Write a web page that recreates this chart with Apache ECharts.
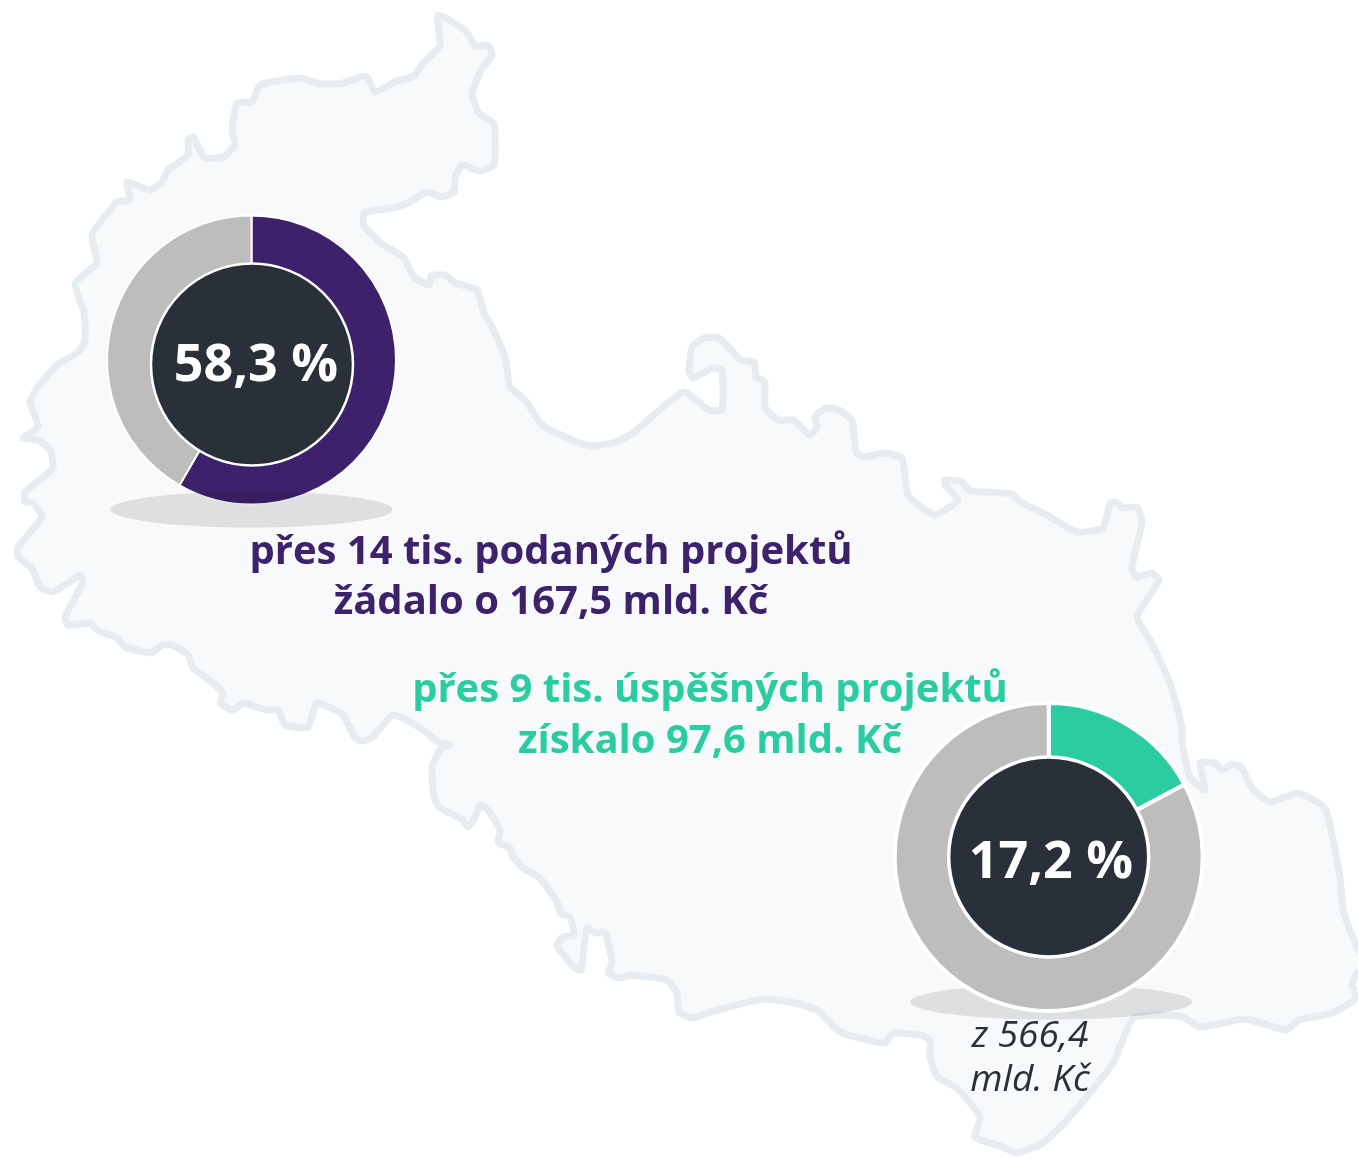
<!DOCTYPE html>
<html lang="cs">
<head>
<meta charset="utf-8">
<style>html,body{margin:0;padding:0;background:#fff}#c{width:1358px;height:1158px}</style>
<script src="https://cdn.jsdelivr.net/npm/echarts@6/dist/echarts.min.js"></script>
</head>
<body>
<div id="c"></div>
<script>
var submittedShare = [58.3, 41.7];
var successShare = [17.2, 82.8];
var submittedLabel = '58,3 %';
var successLabel = '17,2 %';
var submittedText = 'přes 14 tis. podaných projektů\nžádalo o 167,5 mld. Kč';
var successText = 'přes 9 tis. úspěšných projektů\nzískalo 97,6 mld. Kč';
var totalText = 'z 566,4\nmld. Kč';

var regionOutline = [
[438,15],[466,31],[475,46],[488,45],[492,55],[481,70],[472,94],[479,113],[494,124],[494,165],[479,171],[462,165],[455,178],[454,192],[442,197],[427,192],[410,202],[397,207],[364,213],[364,226],[382,244],[403,257],[414,277],[429,285],[431,276],[445,275],[455,283],[477,290],[484,313],[492,327],[505,357],[510,387],[525,400],[542,425],[572,440],[590,446],[616,442],[633,433],[683,392],[709,410],[722,410],[722,370],[713,368],[693,378],[689,372],[692,347],[704,338],[719,338],[741,360],[754,362],[756,377],[765,382],[765,407],[778,420],[793,420],[810,435],[817,427],[815,417],[826,408],[839,410],[852,420],[856,452],[865,457],[884,453],[902,458],[908,495],[934,515],[958,500],[945,485],[945,480],[962,482],[970,491],[1012,494],[1020,502],[1043,513],[1077,532],[1103,528],[1110,503],[1116,502],[1123,508],[1137,507],[1142,522],[1132,567],[1136,577],[1152,573],[1159,580],[1137,617],[1150,640],[1170,683],[1182,727],[1182,743],[1190,777],[1205,790],[1200,763],[1215,763],[1222,770],[1232,764],[1242,768],[1252,788],[1270,802],[1298,793],[1325,808],[1340,877],[1343,910],[1357,947],[1372,965],[1358,972],[1352,985],[1357,998],[1332,1013],[1298,1020],[1287,1030],[1245,1019],[1200,1027],[1183,1017],[1157,1015],[1133,1018],[1113,1063],[1090,1093],[1067,1120],[1043,1143],[1017,1153],[1003,1147],[975,1137],[980,1117],[957,1088],[937,1077],[930,1057],[930,1040],[920,1035],[893,1033],[885,1043],[840,1032],[817,1010],[790,1002],[763,999],[710,1012],[693,1018],[679,1012],[677,993],[667,980],[630,975],[620,978],[608,973],[612,963],[605,932],[595,933],[587,928],[581,970],[575,968],[557,946],[563,937],[574,935],[570,917],[560,913],[557,902],[540,878],[523,868],[512,855],[510,848],[498,842],[500,830],[488,810],[480,805],[475,818],[468,827],[462,819],[440,808],[434,797],[432,767],[440,750],[450,745],[438,742],[427,733],[410,722],[393,715],[377,732],[372,738],[363,741],[355,738],[343,715],[317,703],[308,727],[285,725],[278,710],[267,710],[243,703],[233,710],[220,703],[223,693],[213,683],[193,668],[188,655],[172,645],[163,645],[150,653],[125,647],[117,638],[97,630],[90,623],[68,625],[65,617],[83,582],[80,575],[70,582],[52,592],[40,587],[32,568],[18,557],[18,547],[42,517],[33,503],[25,502],[25,492],[53,468],[50,450],[38,440],[23,438],[38,427],[30,402],[37,388],[56,366],[78,352],[85,340],[84,313],[75,283],[97,263],[92,235],[117,202],[130,200],[127,182],[150,190],[162,182],[168,170],[188,155],[188,140],[193,137],[205,158],[223,157],[235,145],[232,130],[237,103],[252,102],[260,85],[299,78],[321,84],[343,83],[366,76],[375,92],[397,81],[414,76],[423,63],[440,46]
];

var chart = echarts.init(document.getElementById('c'), null, {renderer: 'canvas'});
var FONT = '"Open Sans", "Noto Sans", sans-serif';
var PURPLE = '#3d226b', GREEN = '#2bcca2', GREY = '#bdbdbd', DARK = '#2a3039';

function donut(name, values, color, center, r, border) {
  return {
    type: 'pie', name: name, z: 2, silent: true, startAngle: 90, clockwise: true,
    center: center, radius: [90, r], label: {show: false}, labelLine: {show: false},
    itemStyle: {borderColor: '#ffffff', borderWidth: border},
    data: [
      {value: values[0], name: 'podíl', itemStyle: {color: color}},
      {value: values[1], name: 'zbytek', itemStyle: {color: GREY}}
    ]
  };
}
function txt(text, x, y, size, color, weight, lh, style) {
  return {type: 'text', z: 10, silent: true, x: x, y: y, style: {
    text: text, fill: color,
    fontFamily: FONT, fontSize: size, fontWeight: weight, fontStyle: style || 'normal',
    lineHeight: lh, align: 'center', verticalAlign: 'middle'
  }};
}
chart.setOption({
  animation: false,
  backgroundColor: '#ffffff',
  tooltip: {show: false},
  series: [
    donut('Podané', submittedShare, PURPLE, [251.5, 360], 144.5, 2),
    donut('Úspěšné', successShare, GREEN, [1048.7, 857], 154, 4)
  ],
  graphic: {elements: [
    {type: 'polygon', z: 0, silent: true, shape: {points: regionOutline, smooth: 0.15},
     style: {fill: '#f7f9fb', stroke: '#e6ecf0', lineWidth: 7, lineJoin: 'round'}},
    {type: 'ellipse', z: 3, silent: true, shape: {cx: 251.5, cy: 509.5, rx: 141, ry: 18}, style: {fill: 'rgba(0,0,0,0.1)'}},
    {type: 'ellipse', z: 1, silent: true, shape: {cx: 1051, cy: 1002, rx: 141, ry: 17.5}, style: {fill: 'rgba(0,0,0,0.1)'}},
    {type: 'circle', z: 5, silent: true, shape: {cx: 252, cy: 364.5, r: 101}, style: {fill: DARK, stroke: '#ffffff', lineWidth: 2.5}},
    {type: 'circle', z: 5, silent: true, shape: {cx: 1048.7, cy: 857, r: 100}, style: {fill: DARK, stroke: '#ffffff', lineWidth: 3.5}},
    txt(submittedLabel, 256, 366, 52, '#ffffff', 700, 60),
    txt(successLabel, 1051, 863, 52, '#ffffff', 700, 60),
    txt(submittedText, 551, 577.5, 40, PURPLE, 700, 50.5),
    txt(successText, 710, 716, 40, GREEN, 700, 50.5),
    txt(totalText, 1030, 1058.5, 37, DARK, 400, 44, 'italic')
  ]}
});
</script>
</body>
</html>
